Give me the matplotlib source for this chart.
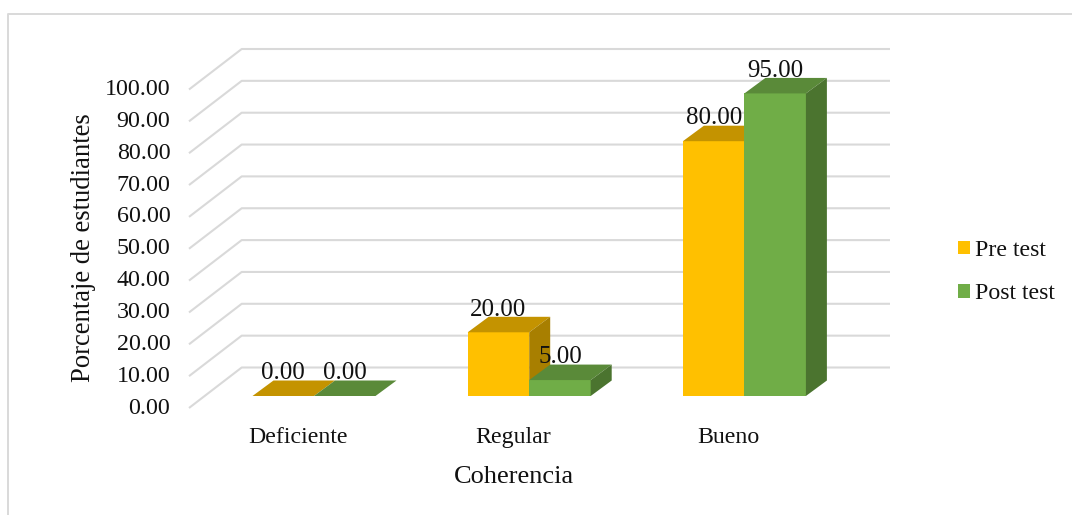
import matplotlib
matplotlib.use("Agg")
import matplotlib.pyplot as plt
from matplotlib.patches import Polygon, Patch
from matplotlib.lines import Line2D

plt.rcParams['font.family'] = ['Liberation Serif', 'DejaVu Serif']

categories = ["Deficiente", "Regular", "Bueno"]
pre_test = [0.0, 20.0, 80.0]
post_test = [0.0, 5.0, 95.0]
grid_values = [0, 10, 20, 30, 40, 50, 60, 70, 80, 90, 100]
series_names = ["Pre test", "Post test"]

W, H = 1072, 515
PX_PER_CAT = 215.2
PX_PER_UNIT = 3.185
X0_PX, Y0_PX = 314.0, 396.0      # category 0 boundary, value 0 at bar base
LEFT, RIGHT, TOP, BOTTOM = 189, 890, 48, 408

fig = plt.figure(figsize=(W / 100, H / 100), dpi=100, facecolor="white")
ax = fig.add_axes([LEFT / W, 1 - BOTTOM / H, (RIGHT - LEFT) / W, (BOTTOM - TOP) / H])
ax.set_xlim((LEFT - X0_PX) / PX_PER_CAT, (RIGHT - X0_PX) / PX_PER_CAT)
ax.set_ylim((Y0_PX - BOTTOM) / PX_PER_UNIT, (Y0_PX - TOP) / PX_PER_UNIT)
ax.patch.set_alpha(0)
for s in ax.spines.values():
    s.set_visible(False)

bar_w = 61.5 / PX_PER_CAT
dep_x = 21 / PX_PER_CAT
dep_y = 15.5 / PX_PER_UNIT
front_shift = (Y0_PX - BOTTOM) / PX_PER_UNIT
wall_dx = 52.7 / PX_PER_CAT
wall_dy = 40.5 / PX_PER_UNIT
x_left = ax.get_xlim()[0]
x_right = ax.get_xlim()[1]

# walls / gridlines
for v in grid_values:
    y = v + front_shift
    ax.plot([x_left, x_left + wall_dx, x_right], [y, y + wall_dy, y + wall_dy],
            color="#d9d9d9", lw=1.5, zorder=1, clip_on=False, solid_capstyle="butt")

def bar3d(x, v, face, top, side):
    ax.bar(x, v, width=bar_w, align="edge", color=face, zorder=3, linewidth=0)
    ax.add_patch(Polygon([(x, v), (x + bar_w, v), (x + bar_w + dep_x, v + dep_y), (x + dep_x, v + dep_y)],
                         closed=True, facecolor=top, edgecolor="none", zorder=3))
    ax.add_patch(Polygon([(x + bar_w, 0), (x + bar_w + dep_x, dep_y), (x + bar_w + dep_x, v + dep_y), (x + bar_w, v)],
                         closed=True, facecolor=side, edgecolor="none", zorder=3))

for i in range(len(categories)):
    bar3d(i - bar_w, pre_test[i], "#FFC000", "#C49300", "#A87F00")
    bar3d(i, post_test[i], "#70AD47", "#5A8A39", "#4B742F")

for i in range(len(categories)):
    for x, v in ((i - bar_w / 2, pre_test[i]), (i + bar_w / 2, post_test[i])):
        ax.text(x, v + dep_y + 0.4, f"{v:.2f}", ha="center", va="baseline", fontsize=18,
                color="#111111", zorder=5)

# y ticks
ax.set_yticks([v + front_shift for v in grid_values])
ax.set_yticklabels([f"{v:.2f}" for v in grid_values], fontsize=17.3, color="#111111")
ax.tick_params(axis="y", length=0, pad=13.5)
for lab in ax.get_yticklabels():
    lab.set_verticalalignment("center")

# x ticks
ax.set_xticks([i - 16 / PX_PER_CAT for i in range(len(categories))])
ax.set_xticklabels(categories, fontsize=17.2, color="#111111")
ax.tick_params(axis="x", length=0, pad=14)

ax.set_xlabel("Coherencia", fontsize=19, color="#111111")
ax.xaxis.set_label_coords((514 - LEFT) / (RIGHT - LEFT), 1 - (477 - TOP) / (BOTTOM - TOP))
ax.xaxis.label.set_verticalalignment("center")
ax.set_ylabel("Porcentaje de estudiantes", fontsize=19.2, color="#111111")
ax.yaxis.set_label_coords((83.5 - LEFT) / (RIGHT - LEFT), 1 - (247.5 - TOP) / (BOTTOM - TOP))
ax.yaxis.label.set_verticalalignment("center")

handles = [Patch(facecolor="#FFC000", edgecolor="none"), Patch(facecolor="#70AD47", edgecolor="none")]
leg = ax.legend(handles, series_names, loc="center left", bbox_to_anchor=(958 / W, 1 - 272 / H),
                bbox_transform=fig.transFigure, frameon=False, fontsize=17.2,
                handlelength=0.51, handleheight=0.51, handletextpad=0.2,
                labelspacing=0.93, borderpad=0, borderaxespad=0)
for t in leg.get_texts():
    t.set_color("#111111")

# chart frame
fig.add_artist(Line2D([7.5 / W, 7.5 / W, 1], [0, 1 - 13.5 / H, 1 - 13.5 / H],
                      color="#d9d9d9", lw=1.4, transform=fig.transFigure))

fig.savefig("out.png", dpi=100, facecolor="white")
